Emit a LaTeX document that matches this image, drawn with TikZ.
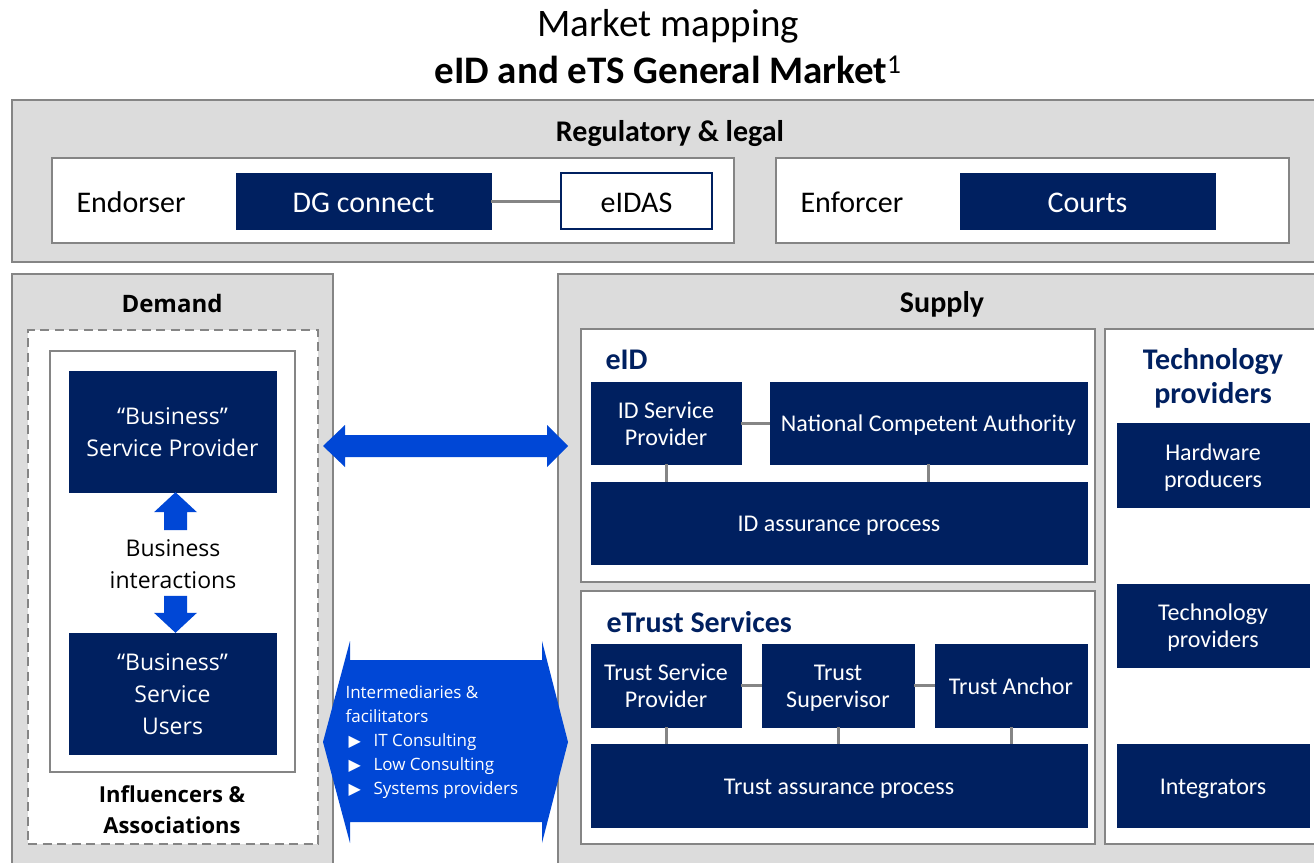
\documentclass[tikz,border=0pt]{standalone}
\usepackage{fontspec}
\setmainfont{Carlito}
\newfontfamily\segoe{Open Sans}
\newfontfamily\symfont{DejaVu Sans}
\usetikzlibrary{calc}
\definecolor{navy}{HTML}{002060}
\definecolor{panel}{HTML}{DCDCDC}
\definecolor{edge}{HTML}{858585}
\definecolor{flow}{HTML}{0047D6}
\newcommand{\fsz}[2]{\fontsize{#1pt}{#2pt}\selectfont}
% box from corner (x1,y1) to (x2,y2): style, x1, y1, x2, y2, name; text follows
\newcommand{\mkbox}[6]{\node[#1, minimum width={(#4-#2)*1pt}, minimum height={(#5-#3)*1pt}] (#6) at ({(#2+#4)/2},{(#3+#5)/2})}
% same, for a labelled box whose text lines are centred on fixed line metrics
\newcommand{\tup}{\rule{0pt}{0.94em}}
\newcommand{\tdn}{\rule[-0.2em]{0pt}{0.2em}}
\newcommand{\mklabel}[7]{\mkbox{#1}{#2}{#3}{#4}{#5}{#6}{\tup#7\tdn};}
\newcommand{\itembullet}{\hspace*{3pt}\makebox[25pt][l]{\raisebox{-0.5pt}{\symfont\fontsize{16pt}{16pt}\selectfont ▶}}}
\begin{document}
\begin{tikzpicture}[x=1pt,y=-1pt,
  container/.style={fill=panel,draw=edge,line width=2.7pt,inner sep=0pt},
  wbox/.style={fill=white,draw=edge,line width=2.7pt,inner sep=0pt},
  dashbox/.style={fill=white,draw=edge,line width=2.7pt,dash pattern=on 9pt off 5.5pt,inner sep=0pt},
  navybox/.style={fill=navy,draw=navy,text=white,inner sep=0pt,align=center,font=\fsz{24}{27}},
  outlinebox/.style={fill=white,draw=navy,line width=2pt,inner sep=0pt,align=center,font=\fsz{30}{34}},
  link/.style={draw=edge,line width=3pt},
  flowshape/.style={fill=flow,draw=none},
  hdr/.style={font=\bfseries\fsz{30}{34}},
  navyhdr/.style={font=\bfseries\fsz{30}{34},text=navy},
  plain/.style={font=\fsz{30}{34}}]
\useasboundingbox (0,0) rectangle (1314,862);

% title
\node[anchor=base,font=\fsz{39}{44}] (title1) at (668,36) {Market mapping};
\node[anchor=base,font=\bfseries\fsz{39}{44}] (title2) at (668,83) {eID and eTS General Market{\mdseries\textsuperscript{1}}};

% regulatory & legal
\mkbox{container}{12}{100}{1340}{262}{reg}{};
\node[anchor=base,hdr] (regt) at (670,141) {Regulatory \& legal};
\mkbox{wbox}{52}{158}{734}{243}{endp}{};
\node[anchor=base west,plain] (endt) at (73,212) {Endorser};
\mklabel{navybox,font=\fsz{30}{34}}{236}{173}{491}{229}{dg}{DG connect}
\mklabel{outlinebox}{561}{173}{712}{229}{eidas}{eIDAS}
\draw[link] (dg.east) -- (eidas.west);
\mkbox{wbox}{776}{158}{1289}{243}{enfp}{};
\node[anchor=base west,plain] (enft) at (797,212) {Enforcer};
\mklabel{navybox,font=\fsz{30}{34}}{960}{173}{1215}{229}{courts}{Courts}

% demand side
\mkbox{container}{12}{274}{333}{890}{dem}{};
\node[anchor=base,font=\segoe\bfseries\fsz{24}{28}] (demt) at (172,312) {Demand};
\mkbox{dashbox}{28}{330}{318}{844}{infl}{};
\mkbox{wbox}{50}{351}{295}{772}{biz}{};
\mklabel{navybox,font=\segoe\fsz{23}{32}}{69}{371}{276}{492}{bsp}{“Business”\\Service Provider}
\mklabel{navybox,font=\segoe\fsz{23}{32}}{69}{633}{276}{754}{bsu}{“Business”\\Service\\Users}
\node[align=center,font=\segoe\fsz{23}{32}] (bint) at (173,564) {Business\\interactions};
\fill[flowshape] ($(bsp.south)+(3,0)$) -- ++(21.5,20) -- ++(-10,0) -- ++(0,18) -- ++(-23,0) -- ++(0,-18) -- ++(-10,0) -- cycle;
\fill[flowshape] ($(bsu.north)+(3,0)$) -- ++(21.5,-20) -- ++(-10,0) -- ++(0,-17) -- ++(-23,0) -- ++(0,17) -- ++(-10,0) -- cycle;
\node[align=center,font=\segoe\bfseries\fsz{22}{31}] (inflt) at (172,810) {Influencers \&\\Associations};

% supply side
\mkbox{container}{558}{274}{1340}{890}{sup}{};
\node[anchor=base,hdr] (supt) at (942,312) {Supply};

\mkbox{wbox}{581}{329}{1095}{582}{eidp}{};
\node[anchor=base west,navyhdr] (eidt) at (602,369) {eID};
\mklabel{navybox}{591}{382}{741}{464}{idsp}{ID Service\\Provider}
\mklabel{navybox}{770}{382}{1087}{464}{nca}{National Competent Authority}
\mklabel{navybox}{591}{482}{1087}{564}{idap}{ID assurance process}
\draw[link] (idsp.east) -- (nca.west);
\draw[link] (idsp.south) -- (idsp.south |- idap.north);
\draw[link] (nca.south) -- (nca.south |- idap.north);

\mkbox{wbox}{581}{591}{1095}{844}{etsp}{};
\node[anchor=base west,navyhdr] (etst) at (603,632) {eTrust Services};
\mklabel{navybox}{591}{644}{741}{727}{tsp}{Trust Service\\Provider}
\mklabel{navybox}{762}{644}{914}{727}{tsup}{Trust\\Supervisor}
\mklabel{navybox}{935}{644}{1087}{727}{tanc}{Trust Anchor}
\mklabel{navybox}{591}{744}{1087}{827}{tap}{Trust assurance process}
\draw[link] (tsp.east) -- (tsup.west);
\draw[link] (tsup.east) -- (tanc.west);
\draw[link] (tsp.south) -- (tsp.south |- tap.north);
\draw[link] (tsup.south) -- (tsup.south |- tap.north);
\draw[link] (tanc.south) -- (tanc.south |- tap.north);

\mkbox{wbox}{1105}{329}{1340}{844}{techp}{};
\node[align=center,navyhdr] (techt) at (1213,378) {Technology\\providers};
\mklabel{navybox}{1117}{423}{1309}{507}{hwp}{Hardware\\producers}
\mklabel{navybox}{1117}{584}{1309}{667}{tpr}{Technology\\providers}
\mklabel{navybox}{1117}{744}{1309}{827}{intg}{Integrators}

% demand <-> supply exchange
\coordinate (hl) at (323,446);
\coordinate (hr) at (568,446);
\fill[flowshape] (hl) -- ++(22,-21) -- ++(0,10) -- ($(hr)+(-21,-11)$) -- ++(0,-10) -- (hr)
  -- ++(-21,21) -- ++(0,-10) -- ($(hl)+(22,11)$) -- ++(0,10) -- cycle;

% intermediaries & facilitators
\coordinate (il) at (323,742);
\coordinate (ir) at (568,742);
\fill[flowshape] (il) -- ++(27,-101) -- ++(0,19) -- ($(ir)+(-26,-82)$) -- ++(0,-19) -- (ir)
  -- ++(-26,101) -- ++(0,-21) -- ($(il)+(27,80)$) -- ++(0,21) -- cycle;
\node[anchor=west,align=left,text=white,font=\segoe\fsz{17}{24}] (imt) at (342,742)
  {Intermediaries \&\\facilitators\\\itembullet IT Consulting\\\itembullet Low Consulting\\\itembullet Systems providers};
\end{tikzpicture}
\end{document}
